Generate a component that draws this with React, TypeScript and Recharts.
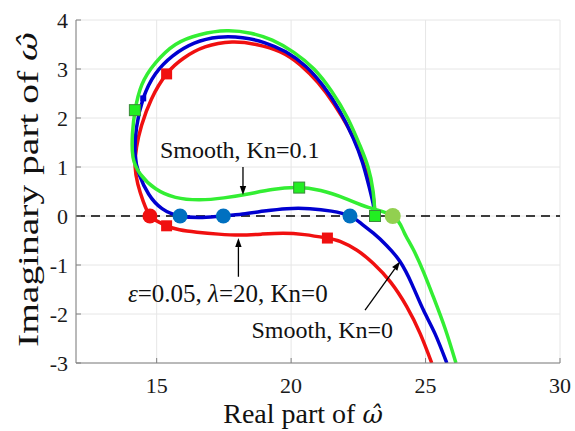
import React from "react"
import {
  ComposedChart,
  Line,
  Scatter,
  XAxis,
  YAxis,
  CartesianGrid,
  ReferenceLine,
  ReferenceDot,
} from "recharts"

// curves, listed in path order (bottom right -> lower branch -> loop -> end on the axis)
const redCurve: [number, number][] = [
  [25.23, -3], [24.8, -2.4], [24.3, -1.85], [23.7, -1.35], [23.06, -0.97],
  [22.45, -0.7], [21.82, -0.52], [21.32, -0.45], [20.5, -0.38], [19.7, -0.35],
  [18.9, -0.37], [18.1, -0.39], [17.3, -0.37], [16.5, -0.33], [15.85, -0.28],
  [15.37, -0.2], [15.0, -0.1], [14.75, 0], [14.5, 0.3], [14.3, 0.65],
  [14.2, 1.0], [14.25, 1.4], [14.44, 1.85], [14.8, 2.38], [15.37, 2.9],
  [16.0, 3.22], [16.8, 3.45], [17.8, 3.55], [18.7, 3.5], [19.6, 3.35],
  [20.35, 3.08], [21.0, 2.72], [21.6, 2.28], [22.15, 1.78], [22.55, 1.3],
  [22.85, 0.8], [23.05, 0.4], [23.12, 0.0],
]
const blueCurve: [number, number][] = [
  [25.79, -3], [25.35, -2.4], [24.92, -1.92], [24.5, -1.4], [24.05, -0.93],
  [23.55, -0.6], [23.06, -0.35], [22.6, -0.15], [22.19, 0], [21.5, 0.1],
  [20.7, 0.15], [19.84, 0.15], [19.0, 0.1], [18.2, 0.04], [17.48, 0],
  [16.7, -0.03], [15.87, 0], [15.2, 0.15], [14.7, 0.45], [14.35, 0.85],
  [14.2, 1.25], [14.25, 1.8], [14.5, 2.4], [14.95, 2.9], [15.6, 3.27],
  [16.4, 3.53], [17.3, 3.65], [18.2, 3.64], [19.0, 3.54], [19.8, 3.35],
  [20.55, 3.05], [21.2, 2.65], [21.8, 2.15], [22.3, 1.6], [22.65, 1.1],
  [22.9, 0.6], [23.05, 0.25], [23.12, 0.0],
]
const greenCurve: [number, number][] = [
  [26.13, -3], [25.73, -2.3], [25.29, -1.65], [24.93, -1.15], [24.55, -0.69],
  [24.2, -0.33], [23.8, 0], [22.9, 0.17], [22.0, 0.36], [21.1, 0.52],
  [20.2, 0.58], [19.3, 0.54], [18.4, 0.45], [17.5, 0.37], [16.6, 0.33],
  [15.7, 0.38], [14.95, 0.56], [14.4, 0.85], [14.12, 1.2], [14.1, 1.68],
  [14.2, 2.16], [14.45, 2.68], [14.95, 3.12], [15.7, 3.5], [16.6, 3.7],
  [17.6, 3.78], [18.5, 3.73], [19.3, 3.59], [20.1, 3.34], [20.85, 3.0],
  [21.5, 2.55], [22.1, 2.0], [22.55, 1.45], [22.86, 1.0], [23.05, 0.5],
  [23.12, 0.0],
]

// markers
const redCircles: [number, number][] = [[14.75, 0]]
const blueCircles: [number, number][] = [[15.87, 0], [17.48, 0], [22.19, 0]]
const lightGreenCircles: [number, number][] = [[23.78, 0]]
const redSquares: [number, number][] = [[15.37, 2.9], [15.37, -0.2], [21.35, -0.45]]
const greenSquares: [number, number][] = [[14.19, 2.16], [20.3, 0.58], [23.12, 0]]
const blueSquares: [number, number][] = [[14.5, 2.4]]

const xTicks = [15, 20, 25, 30]
const yTicks = [-3, -2, -1, 0, 1, 2, 3, 4]

const FONT = "Liberation Serif, Times New Roman, serif"
const OMEGA_HAT = "\u03C9\u0302"

const toPoints = (arr: [number, number][]) => arr.map(([x, y]) => ({ x, y }))

const circleShape = (fill: string, r: number) => (p: any) =>
  <circle cx={p.cx} cy={p.cy} r={r} fill={fill} />

const squareShape = (fill: string, size: number, stroke?: string) => (p: any) =>
  <rect x={p.cx - size / 2} y={p.cy - size / 2} width={size} height={size} fill={fill}
    stroke={stroke || "none"} strokeWidth={stroke ? 1 : 0} />

function Arrow(p: any) {
  const { x1, y1, x2, y2 } = p
  const ang = Math.atan2(y2 - y1, x2 - x1)
  const len = 9
  const hw = 3.2
  const bx = x2 - len * Math.cos(ang)
  const by = y2 - len * Math.sin(ang)
  const px = -Math.sin(ang) * hw
  const py = Math.cos(ang) * hw
  return (
    <g>
      <line x1={x1} y1={y1} x2={bx} y2={by} stroke="#000" strokeWidth={1.3} />
      <polygon points={`${x2},${y2} ${bx + px},${by + py} ${bx - px},${by - py}`} fill="#000" />
    </g>
  )
}

const textShape = (content: React.ReactNode, anchor: "start" | "end" | "middle", size = 24) => (p: any) =>
  <text x={p.cx} y={p.cy} textAnchor={anchor} fontFamily={FONT} fontSize={size} fill="#111">{content}</text>

export default function App() {
  return (
    <div style={{ position: "absolute", left: 0, top: 0, background: "#fff" }}>
      <ComposedChart width={575} height={431} margin={{ top: 20, right: 15, left: 0, bottom: 0 }}>
        <CartesianGrid stroke="#e6e6e6" strokeWidth={1} />
        <XAxis
          type="number"
          dataKey="x"
          domain={[12, 30]}
          ticks={xTicks}
          allowDataOverflow
          height={68}
          stroke="#808080"
          tickSize={-5}
          tickMargin={19}
          tick={{ fontSize: 22, fontFamily: FONT, fill: "#1a1a1a" }}
          label={{
            content: (props: any) => {
              const vb = props.viewBox
              return (
                <text x={vb.x + vb.width / 2 - 15} y={423} textAnchor="middle" fontFamily={FONT} fontSize={28} fill="#111">
                  Real part of <tspan fontFamily="DejaVu Serif" fontStyle="italic" fontSize={25}>{OMEGA_HAT}</tspan>
                </text>
              )
            },
          }}
        />
        <YAxis
          type="number"
          dataKey="y"
          domain={[-3, 4]}
          ticks={yTicks}
          allowDataOverflow
          width={76}
          stroke="#808080"
          tickSize={-5}
          tickMargin={13}
          tick={{ fontSize: 22, fontFamily: FONT, fill: "#1a1a1a" }}
          label={{
            content: (props: any) => {
              const vb = props.viewBox
              const cy = vb.y + vb.height / 2 - 2
              return (
                <text x={28} y={cy} transform={`rotate(-90, 28, ${cy})`} textAnchor="middle" dominantBaseline="central"
                  fontFamily={FONT} fontSize={29} fill="#111" textLength={315} lengthAdjust="spacingAndGlyphs">
                  Imaginary part of <tspan fontFamily="DejaVu Serif" fontStyle="italic" fontSize={26}>{OMEGA_HAT}</tspan>
                </text>
              )
            },
          }}
        />
        <ReferenceLine y={0} stroke="#000" strokeWidth={1.4} strokeDasharray="9 6" />

        <Line data={toPoints(redCurve)} dataKey="y" type="natural" stroke="#f01010" strokeWidth={3.5} dot={false} isAnimationActive={false} />
        <Line data={toPoints(blueCurve)} dataKey="y" type="natural" stroke="#0000d0" strokeWidth={3.5} dot={false} isAnimationActive={false} />
        <Line data={toPoints(greenCurve)} dataKey="y" type="natural" stroke="#33ee33" strokeWidth={3.5} dot={false} isAnimationActive={false} />

        <Scatter data={toPoints(blueSquares)} dataKey="y" shape={squareShape("#0000d0", 6)} isAnimationActive={false} />
        <Scatter data={toPoints(redSquares)} dataKey="y" shape={squareShape("#f01010", 11)} isAnimationActive={false} />
        <Scatter data={toPoints(greenSquares)} dataKey="y" shape={squareShape("#22ee22", 11, "#3a8a3a")} isAnimationActive={false} />
        <Scatter data={toPoints(redCircles)} dataKey="y" shape={circleShape("#f01010", 7.5)} isAnimationActive={false} />
        <Scatter data={toPoints(blueCircles)} dataKey="y" shape={circleShape("#0070c0", 7.5)} isAnimationActive={false} />
        <Scatter data={toPoints(lightGreenCircles)} dataKey="y" shape={circleShape("#92d050", 8)} isAnimationActive={false} />

        <ReferenceLine segment={[{ x: 18.21, y: 1.0 }, { x: 18.21, y: 0.43 }]} shape={Arrow} />
        <ReferenceLine segment={[{ x: 18.04, y: -1.24 }, { x: 18.04, y: -0.45 }]} shape={Arrow} />
        <ReferenceLine segment={[{ x: 22.75, y: -1.92 }, { x: 24.05, y: -0.93 }]} shape={Arrow} />

        <ReferenceDot x={15.12} y={1.18} r={0} shape={textShape("Smooth, Kn=0.1", "start")} />
        <ReferenceDot x={13.93} y={-1.75} r={0}
          shape={textShape(<><tspan fontStyle="italic">{"\u03B5"}</tspan>=0.05, <tspan fontStyle="italic">{"\u03BB"}</tspan>=20, Kn=0</>, "start", 25)} />
        <ReferenceDot x={23.79} y={-2.49} r={0} shape={textShape("Smooth, Kn=0", "end")} />
      </ComposedChart>
    </div>
  )
}
